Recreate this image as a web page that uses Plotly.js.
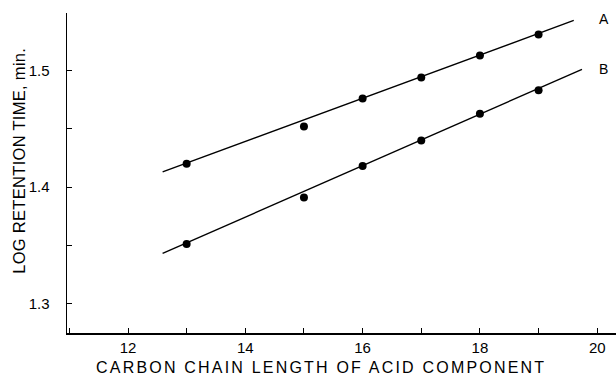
<!DOCTYPE html>
<html><head><meta charset="utf-8">
<script src="https://cdn.plot.ly/plotly-3.0.1.min.js"></script>
<style>html,body{margin:0;padding:0;background:#fff}#plot{width:616px;height:377px}</style>
</head><body><div id="plot"></div>
<script>
const carbonA = [13, 15, 16, 17, 18, 19];
const logA = [1.420, 1.452, 1.476, 1.494, 1.513, 1.531];
const carbonB = [13, 15, 16, 17, 18, 19];
const logB = [1.351, 1.391, 1.418, 1.440, 1.463, 1.483];
const fitAx = [12.59, 19.60];
const fitAy = [1.413, 1.543];
const fitBx = [12.59, 19.74];
const fitBy = [1.343, 1.501];
const curveLabels = ['A', 'B'];
const labelX = [20.11, 20.11];
const labelY = [1.544, 1.501];
const xTitle = 'CARBON CHAIN LENGTH OF ACID COMPONENT';
const yTitle = 'LOG RETENTION TIME, min.';

const traces = [
  {x: fitAx, y: fitAy, mode: 'lines', line: {color: '#000', width: 1.4}, hoverinfo: 'skip'},
  {x: fitBx, y: fitBy, mode: 'lines', line: {color: '#000', width: 1.4}, hoverinfo: 'skip'},
  {x: carbonA, y: logA, mode: 'markers', marker: {color: '#000', size: 8}},
  {x: carbonB, y: logB, mode: 'markers', marker: {color: '#000', size: 8}}
];
const fam = 'Liberation Sans, Arial, sans-serif';
const layout = {
  width: 616, height: 377,
  margin: {l: 67, r: 0, t: 13, b: 44},
  showlegend: false,
  paper_bgcolor: '#fff', plot_bgcolor: '#fff',
  font: {family: fam, color: '#000'},
  xaxis: {
    range: [10.96, 20.32], tick0: 12, dtick: 2,
    showgrid: false, zeroline: false, showline: true, linecolor: '#000', linewidth: 1.5,
    ticks: 'inside', ticklen: 5, tickcolor: '#000', tickwidth: 1,
    tickfont: {family: fam, size: 15, color: '#000'},
    minor: {dtick: 1, tick0: 11, ticks: 'inside', ticklen: 5, tickcolor: '#000', showgrid: false}
  },
  yaxis: {
    range: [1.2747, 1.5494], tick0: 1.3, dtick: 0.1, tickformat: '.1f',
    showgrid: false, zeroline: false, showline: true, linecolor: '#000', linewidth: 1.5,
    ticks: 'inside', ticklen: 5, tickcolor: '#000', tickwidth: 1,
    ticklabelstandoff: 13,
    tickfont: {family: fam, size: 15, color: '#000'},
    minor: {dtick: 0.05, tick0: 1.25, ticks: 'inside', ticklen: 5, tickcolor: '#000', showgrid: false}
  },
  annotations: curveLabels.map((t, i) => ({
    x: labelX[i], y: labelY[i], xref: 'x', yref: 'y', text: t, showarrow: false,
    font: {family: fam, size: 14, color: '#000'}, xanchor: 'center', yanchor: 'middle'
  })).concat([
    {x: 0.462, y: -0.108, xref: 'paper', yref: 'paper', showarrow: false,
     text: '<span style="letter-spacing:2.2px">' + xTitle + '</span>',
     font: {family: fam, size: 16, color: '#000'}, xanchor: 'center', yanchor: 'middle'},
    {x: -0.0878, y: 0.5375, xref: 'paper', yref: 'paper', showarrow: false, textangle: -90,
     text: '<span style="letter-spacing:0.3px">' + yTitle + '</span>',
     font: {family: fam, size: 16.5, color: '#000'}, xanchor: 'center', yanchor: 'middle'}
  ])
};
Plotly.newPlot('plot', traces, layout, {displayModeBar: false, staticPlot: true});
</script></body></html>
